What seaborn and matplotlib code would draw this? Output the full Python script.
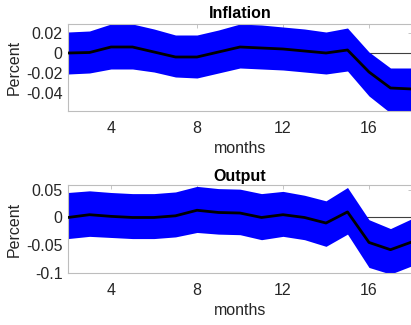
import numpy as np
import pandas as pd
import matplotlib
matplotlib.use("Agg")
import matplotlib.pyplot as plt
import seaborn as sns

months = list(range(2, 19))

infl_mid = [0.000, 0.0005, 0.006, 0.006, 0.001, -0.004, -0.004, 0.001, 0.006, 0.005,
            0.004, 0.002, 0.000, 0.003, -0.019, -0.035, -0.036]
infl_hi = [0.021, 0.022, 0.029, 0.029, 0.024, 0.018, 0.018, 0.023, 0.029, 0.028,
           0.026, 0.024, 0.021, 0.025, 0.001, -0.015, -0.015]
infl_lo = [-0.021, -0.020, -0.016, -0.016, -0.019, -0.024, -0.025, -0.020, -0.015, -0.016,
           -0.017, -0.019, -0.021, -0.018, -0.043, -0.060, -0.060]

out_mid = [0.000, 0.005, 0.002, 0.000, 0.000, 0.003, 0.013, 0.009, 0.008, 0.000,
           0.005, 0.000, -0.010, 0.010, -0.045, -0.058, -0.044]
out_hi = [0.045, 0.048, 0.045, 0.043, 0.043, 0.046, 0.056, 0.052, 0.051, 0.043,
          0.047, 0.040, 0.030, 0.054, -0.004, -0.020, -0.002]
out_lo = [-0.038, -0.034, -0.036, -0.038, -0.038, -0.035, -0.027, -0.030, -0.031, -0.040,
          -0.034, -0.040, -0.052, -0.030, -0.090, -0.102, -0.087]

titles = ["Inflation", "Output"]
ylims = [(-0.058, 0.029), (-0.1, 0.0585)]
yticks = [[-0.04, -0.02, 0, 0.02], [-0.1, -0.05, 0, 0.05]]
yticklabels = [["-0.04", "-0.02", "0", "0.02"], ["-0.1", "-0.05", "0", "0.05"]]
xticks = [4, 8, 12, 16]

sns.set_style("white")
plt.rcParams['font.family'] = ['Liberation Sans', 'DejaVu Sans']

W, H = 411, 325
fig = plt.figure(figsize=(W / 100, H / 100), dpi=100)

# axes positions in pixels: left, top, right, bottom
boxes = [(68, 24, 412, 111), (68, 185, 412, 273)]
series = [(infl_mid, infl_hi, infl_lo), (out_mid, out_hi, out_lo)]
title_pads = [4, 3]

textc = '#262626'
fs = 11.5
for i, ((l, t, r, b), (mid, hi, lo)) in enumerate(zip(boxes, series)):
    ax = fig.add_axes([l / W, 1 - b / H, (r - l) / W, (b - t) / H])
    df = pd.DataFrame({"month": months, "mid": mid, "hi": hi, "lo": lo})
    ax.axhline(0, color='#404040', lw=0.8, zorder=1)
    ax.fill_between(df["month"], df["lo"], df["hi"], color='#0000ff', lw=0, zorder=2)
    sns.lineplot(data=df, x="month", y="mid", color='black', lw=2.0, ax=ax, zorder=3)
    ax.set_xlim(2, 18)
    ax.set_ylim(*ylims[i])
    ax.set_xticks(xticks)
    ax.set_xticklabels([str(x) for x in xticks])
    ax.set_yticks(yticks[i])
    ax.set_yticklabels(yticklabels[i])
    ax.tick_params(direction='in', length=3, width=0.6, colors='#bdbdbd',
                   labelcolor=textc, labelsize=fs, top=True, right=True)
    ax.tick_params(axis='x', pad=7)
    ax.tick_params(axis='y', pad=4)
    for s in ax.spines.values():
        s.set_color('#bdbdbd')
        s.set_linewidth(0.8)
    ax.set_title(titles[i], fontsize=fs, fontweight='bold', color='black', pad=title_pads[i])
    ax.set_xlabel("months", fontsize=fs, color=textc, labelpad=4)
    ax.set_ylabel("Percent", fontsize=fs, color=textc, labelpad=3)

fig.savefig("out.png", dpi=100)
